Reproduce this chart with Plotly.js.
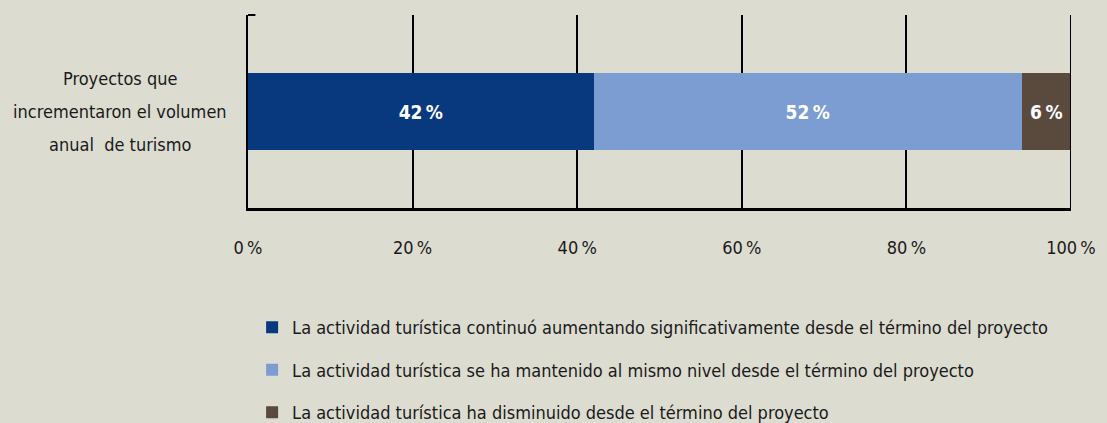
<!DOCTYPE html>
<html><head><meta charset="utf-8">
<script src="https://cdn.plot.ly/plotly-3.0.1.min.js"></script>
<style>html,body{margin:0;padding:0;background:#dcdcd1;}</style>
</head><body>
<div id="chart" style="width:1107px;height:423px;"></div>
<script>
var categories = ["Proyectos que<br>incrementaron el volumen<br>anual  de turismo"];
var seriesNames = [
  "La actividad turística continuó aumentando significativamente desde el término del proyecto",
  "La actividad turística se ha mantenido al mismo nivel desde el término del proyecto",
  "La actividad turística ha disminuido desde el término del proyecto"
];
var seriesValues = [[42], [52], [6]];
var seriesColors = ["#08397f", "#7b9dd2", "#5a4a3e"];
var tickValues = [0, 20, 40, 60, 80, 100];
var tickLabels = ["0\u2009%", "20\u2009%", "40\u2009%", "60\u2009%", "80\u2009%", "100\u2009%"];

var FONT = "Liberation Sans Narrow, DejaVu Sans Condensed, Arial Narrow, sans-serif";

var traces = seriesNames.map(function(name, i){
  return {
    type: 'bar', orientation: 'h', name: name,
    x: seriesValues[i], y: categories,
    marker: {color: seriesColors[i], line: {width: 0}},
    text: seriesValues[i].map(function(v){ return v + "\u2009%"; }),
    textposition: 'inside', insidetextanchor: 'middle', textangle: 0, constraintext: 'none',
    textfont: {color: '#ffffff', size: 19, family: FONT, weight: 'bold'},
    hoverinfo: 'none', legendgroup: 'g' + i, width: 0.404
  };
});

// category label drawn as centered multi-line text with wider line spacing
var catLines = categories[0].split('<br>');
var catAnnotations = catLines.map(function(line, k){
  return {
    xref: 'paper', yref: 'y', x: -0.155, y: categories[0],
    yshift: (1 - k) * 33,
    text: line, showarrow: false, align: 'center', xanchor: 'center', yanchor: 'middle',
    font: {size: 18, family: FONT, color: '#1a1a1a'}
  };
});

var layout = {
  width: 1107, height: 423,
  paper_bgcolor: '#dcdcd1', plot_bgcolor: '#dcdcd1',
  margin: {l: 248, r: 36, t: 15, b: 215, autoexpand: false},
  barmode: 'stack',
  font: {family: FONT, size: 18, color: '#1a1a1a'},
  xaxis: {
    range: [0, 100], tickvals: tickValues, ticktext: tickLabels,
    showgrid: true, gridcolor: '#000000', gridwidth: 2,
    zeroline: false, showline: true, linecolor: '#000000', linewidth: 2.5,
    ticks: '', ticklabelstandoff: 22, tickfont: {size: 18, family: FONT, color: '#1a1a1a'},
    fixedrange: true
  },
  yaxis: {
    showticklabels: false, showgrid: false, zeroline: false,
    showline: true, linecolor: '#000000', linewidth: 2.5,
    ticks: '', range: [-0.5, 0.5], fixedrange: true
  },
  showlegend: true,
  legend: {
    orientation: 'v', traceorder: 'grouped', tracegroupgap: 16,
    x: 0.005, xanchor: 'left', xref: 'paper',
    y: -0.524, yanchor: 'top',
    bgcolor: 'rgba(0,0,0,0)', font: {size: 18, family: FONT, color: '#1a1a1a'},
    itemclick: false
  },
  annotations: catAnnotations,
  shapes: [
    {type: 'line', xref: 'paper', yref: 'paper', x0: 0, x1: 0.009, y0: 1, y1: 1,
     line: {color: '#000000', width: 2}},
    {type: 'line', xref: 'x', yref: 'paper', x0: 100, x1: 100, y0: 0, y1: 1,
     line: {color: '#000000', width: 2}}
  ]
};

Plotly.newPlot('chart', traces, layout, {displayModeBar: false, staticPlot: true});
</script>
</body></html>
